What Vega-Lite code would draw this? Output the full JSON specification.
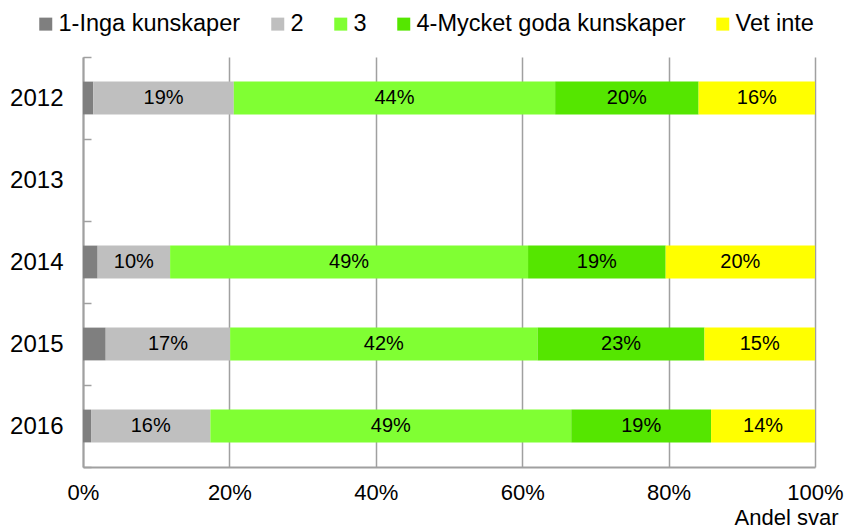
{
  "$schema": "https://vega.github.io/schema/vega-lite/v6.json",
  "width": 732,
  "height": 410,
  "autosize": {"type": "none"},
  "padding": {"left": 83, "top": 57, "right": 32, "bottom": 62},
  "background": "white",
  "config": {
    "view": {"stroke": null},
    "font": "Liberation Sans",
    "axis": {"labelFont": "Liberation Sans", "titleFont": "Liberation Sans", "labelColor": "#000000", "titleColor": "#000000"},
    "legend": {"labelFont": "Liberation Sans", "labelColor": "#000000"}
  },
  "data": {
    "values": [
      {"year": "2012", "cat": "1-Inga kunskaper", "k": 1, "v": 0.014},
      {"year": "2012", "cat": "2", "k": 2, "v": 0.192},
      {"year": "2012", "cat": "3", "k": 3, "v": 0.439},
      {"year": "2012", "cat": "4-Mycket goda kunskaper", "k": 4, "v": 0.196},
      {"year": "2012", "cat": "Vet inte", "k": 5, "v": 0.159},
      {"year": "2014", "cat": "1-Inga kunskaper", "k": 1, "v": 0.020},
      {"year": "2014", "cat": "2", "k": 2, "v": 0.099},
      {"year": "2014", "cat": "3", "k": 3, "v": 0.489},
      {"year": "2014", "cat": "4-Mycket goda kunskaper", "k": 4, "v": 0.188},
      {"year": "2014", "cat": "Vet inte", "k": 5, "v": 0.204},
      {"year": "2015", "cat": "1-Inga kunskaper", "k": 1, "v": 0.031},
      {"year": "2015", "cat": "2", "k": 2, "v": 0.170},
      {"year": "2015", "cat": "3", "k": 3, "v": 0.420},
      {"year": "2015", "cat": "4-Mycket goda kunskaper", "k": 4, "v": 0.228},
      {"year": "2015", "cat": "Vet inte", "k": 5, "v": 0.151},
      {"year": "2016", "cat": "1-Inga kunskaper", "k": 1, "v": 0.011},
      {"year": "2016", "cat": "2", "k": 2, "v": 0.163},
      {"year": "2016", "cat": "3", "k": 3, "v": 0.493},
      {"year": "2016", "cat": "4-Mycket goda kunskaper", "k": 4, "v": 0.191},
      {"year": "2016", "cat": "Vet inte", "k": 5, "v": 0.142}
    ]
  },
  "transform": [
    {"stack": "v", "groupby": ["year"], "sort": [{"field": "k", "order": "ascending"}], "as": ["v0", "v1"]},
    {"calculate": "(datum.v0 + datum.v1) / 2", "as": "mid"}
  ],
  "encoding": {
    "y": {
      "field": "year",
      "type": "nominal",
      "scale": {"domain": ["2012", "2013", "2014", "2015", "2016"], "paddingInner": 0, "paddingOuter": 0},
      "axis": {
        "title": null,
        "labelFontSize": 24,
        "labelPadding": 28,
        "tickBand": "extent",
        "tickSize": -8,
        "tickColor": "#a0a0a0",
        "tickWidth": 1.5,
        "domainColor": "#a0a0a0",
        "domainWidth": 2,
        "grid": false
      }
    }
  },
  "layer": [
    {
      "mark": {"type": "bar", "height": {"band": 0.4}},
      "encoding": {
        "x": {
          "field": "v0",
          "type": "quantitative",
          "scale": {"domain": [0, 1], "nice": false},
          "axis": {
            "format": ".0%",
            "values": [0, 0.2, 0.4, 0.6, 0.8, 1],
            "labelFontSize": 22,
            "labelPadding": 15,
            "labelFlush": false,
            "ticks": false,
            "grid": true,
            "gridColor": "#a0a0a0",
            "gridWidth": 1.5,
            "domainColor": "#a0a0a0",
            "domainWidth": 2,
            "title": "Andel svar",
            "titleFontSize": 22,
            "titleFontWeight": "normal",
            "titleAnchor": "end",
            "titleAlign": "right",
            "titleBaseline": "alphabetic",
            "titleX": 755,
            "titleY": 57
          }
        },
        "x2": {"field": "v1"},
        "color": {
          "field": "cat",
          "type": "nominal",
          "scale": {
            "domain": ["1-Inga kunskaper", "2", "3", "4-Mycket goda kunskaper", "Vet inte"],
            "range": ["#7f7f7f", "#bfbfbf", "#80ff33", "#55e600", "#ffff00"]
          },
          "legend": {
            "title": null,
            "orient": "none",
            "direction": "horizontal",
            "legendX": -49,
            "legendY": -45,
            "symbolType": "square",
            "symbolSize": 169,
            "symbolStrokeWidth": 0,
            "labelFontSize": 23.5,
            "labelOffset": 1,
            "columnPadding": 25,
            "labelLimit": 400
          }
        }
      }
    },
    {
      "transform": [{"filter": "datum.k > 1"}],
      "mark": {"type": "text", "fontSize": 20, "color": "#000000", "align": "center", "baseline": "middle"},
      "encoding": {
        "x": {"field": "mid", "type": "quantitative"},
        "text": {"field": "v", "type": "quantitative", "format": ".0%"}
      }
    }
  ]
}
